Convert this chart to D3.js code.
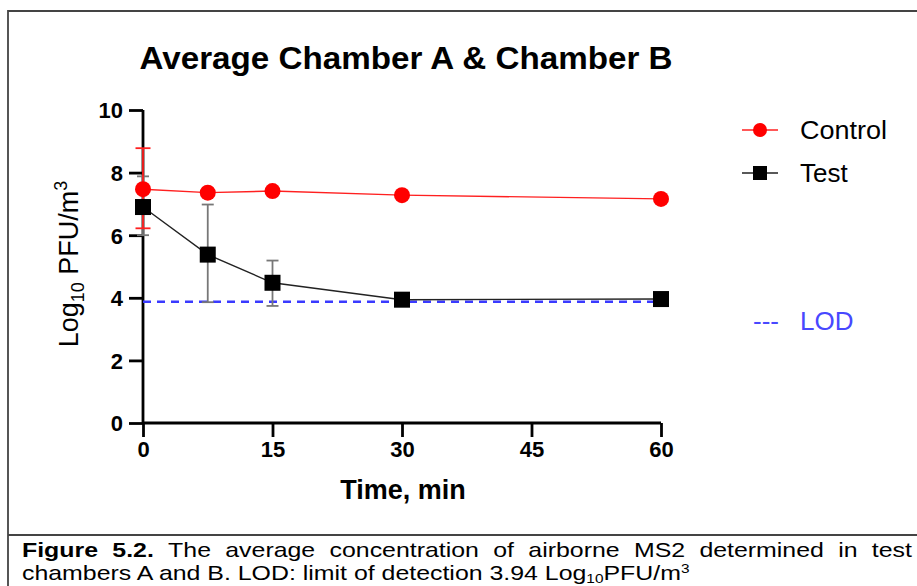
<!DOCTYPE html>
<html><head><meta charset="utf-8">
<script src="https://cdn.jsdelivr.net/npm/d3@7"></script>
<style>body{margin:0;background:#fff}svg{display:block}</style>
</head><body>
<script>
const times = [0, 7.5, 15, 30, 60];
const controlMean = [7.47, 7.36, 7.41, 7.28, 7.16];
const controlErr = [[6.22, 8.78], null, null, null, null];
const testMean = [6.9, 5.38, 4.48, 3.94, 3.96];
const testErr = [[6.0, 7.88], [3.86, 6.98], [3.74, 5.19], null, null];
const lodValue = 3.87;
const xTicks = [0, 15, 30, 45, 60];
const yTicks = [0, 2, 4, 6, 8, 10];
const captionLine1 = ["Figure", "5.2.", "The", "average", "concentration", "of", "airborne", "MS2", "determined", "in", "test"];

const W = 917, H = 586;
const svg = d3.select("body").append("svg").attr("width", W).attr("height", H);
const font = "Liberation Sans, Arial, sans-serif";

// frame
svg.append("path").attr("d", `M8,${H} V11 H${W}`).attr("fill","none").attr("stroke","#444").attr("stroke-width",1.8);
svg.append("line").attr("x1",8).attr("x2",W).attr("y1",535).attr("y2",535).attr("stroke","#444").attr("stroke-width",1.8);

const x = d3.scaleLinear().domain([0, 60]).range([143, 661]);
const y = d3.scaleLinear().domain([0, 10]).range([423, 110]);

// title
svg.append("text").attr("x", 406).attr("y", 69).attr("text-anchor","middle")
  .attr("font-family", font).attr("font-weight","bold").attr("font-size", 31)
  .attr("textLength", 533).attr("lengthAdjust","spacingAndGlyphs")
  .text("Average Chamber A & Chamber B");

// axes
const xAxis = svg.append("g").attr("transform", `translate(0,${y(0)})`)
  .call(d3.axisBottom(x).tickValues(xTicks).tickSize(14).tickPadding(4));
const yAxis = svg.append("g").attr("transform", `translate(${x(0)},0)`)
  .call(d3.axisLeft(y).tickValues(yTicks).tickSize(14).tickPadding(6));
[xAxis, yAxis].forEach(g => {
  g.select(".domain").attr("stroke","#000").attr("stroke-width",2.8);
  g.selectAll(".tick line").attr("stroke","#000").attr("stroke-width",2.8);
  g.selectAll(".tick text").attr("font-family", font).attr("font-weight","bold").attr("font-size",22).attr("fill","#000");
});
xAxis.select(".domain").attr("d", `M${x(0)},0H${x(60)}`);
yAxis.select(".domain").attr("d", `M0,${y(0)}V${y(10)}`);
yAxis.selectAll(".tick text").attr("dy","0.36em");

// axis labels
svg.append("text").attr("x", 403).attr("y", 499).attr("text-anchor","middle")
  .attr("font-family", font).attr("font-weight","bold").attr("font-size",27).text("Time, min");
const yl = svg.append("text").attr("transform", `translate(78,264) rotate(-90)`).attr("text-anchor","middle")
  .attr("font-family", font).attr("font-size",27);
yl.append("tspan").text("Log");
yl.append("tspan").attr("font-size",18).attr("dy",6).text("10");
yl.append("tspan").attr("dy",-6).text(" PFU/m");
yl.append("tspan").attr("font-size",18).attr("dy",-11).text("3");

// LOD
svg.append("line").attr("x1", x(0)).attr("x2", x(60)).attr("y1", y(lodValue)).attr("y2", y(lodValue))
  .attr("stroke","#3a3aff").attr("stroke-width",2.5).attr("stroke-dasharray","8,6");

// error bars
function errBars(errs, color, capW) {
  errs.forEach((e, i) => {
    if (!e) return;
    const cx = x(times[i]);
    const g = svg.append("g").attr("stroke", color).attr("stroke-width",1.8);
    g.append("line").attr("x1",cx).attr("x2",cx).attr("y1",y(e[0])).attr("y2",y(e[1]));
    g.append("line").attr("x1",cx-capW/2).attr("x2",cx+capW/2).attr("y1",y(e[0])).attr("y2",y(e[0]));
    g.append("line").attr("x1",cx-capW/2).attr("x2",cx+capW/2).attr("y1",y(e[1])).attr("y2",y(e[1]));
  });
}
errBars(testErr, "#777", 12);
errBars(controlErr, "#ff2020", 15);

const line = d3.line().x((d,i)=>x(times[i])).y(d=>y(d));
svg.append("path").datum(testMean).attr("d", line).attr("fill","none").attr("stroke","#222").attr("stroke-width",1.4);
svg.append("path").datum(controlMean).attr("d", line).attr("fill","none").attr("stroke","#ff2020").attr("stroke-width",1.4);

svg.selectAll(".sq").data(testMean).enter().append("rect")
  .attr("x",(d,i)=>x(times[i])-8).attr("y",d=>y(d)-8).attr("width",16).attr("height",16).attr("fill","#000");
svg.selectAll(".ci").data(controlMean).enter().append("circle")
  .attr("cx",(d,i)=>x(times[i])).attr("cy",d=>y(d)).attr("r",8).attr("fill","#ff0000");

// legend
const lg = svg.append("g");
lg.append("line").attr("x1",742).attr("x2",778).attr("y1",130).attr("y2",130).attr("stroke","#ff2020").attr("stroke-width",1.6);
lg.append("circle").attr("cx",760).attr("cy",130).attr("r",7).attr("fill","#ff0000");
lg.append("text").attr("x",800).attr("y",139).attr("font-family",font).attr("font-size",26)
  .attr("textLength",87).attr("lengthAdjust","spacingAndGlyphs").text("Control");
lg.append("line").attr("x1",742).attr("x2",778).attr("y1",173).attr("y2",173).attr("stroke","#222").attr("stroke-width",1.6);
lg.append("rect").attr("x",753).attr("y",166).attr("width",14).attr("height",14).attr("fill","#000");
lg.append("text").attr("x",800).attr("y",182).attr("font-family",font).attr("font-size",26).text("Test");
lg.append("text").attr("x",753).attr("y",330).attr("font-family",font).attr("font-size",26).attr("fill","#4848ff").text("---");
lg.append("text").attr("x",800).attr("y",330).attr("font-family",font).attr("font-size",26).attr("fill","#4848ff").text("LOD");

// caption line 2 (measured first to get horizontal scale)
const capSize = 21, capLeft = 22, capRight = 912;
const cap2 = svg.append("text").attr("font-family",font).attr("font-size",capSize);
cap2.append("tspan").text("chambers A and B. LOD: limit of detection 3.94 Log");
cap2.append("tspan").attr("font-size",13).attr("dy",3).text("10");
cap2.append("tspan").attr("dy",-3).text("PFU/m");
cap2.append("tspan").attr("font-size",13).attr("dy",-7).text("3");
const sx = 668 / cap2.node().getComputedTextLength();
cap2.attr("transform", `translate(${capLeft},580) scale(${sx},1)`);

// caption line 1 (justified word by word)
const words = captionLine1.map((w, i) => {
  const t = svg.append("text").attr("font-family", font).attr("font-size", capSize)
    .attr("font-weight", i < 2 ? "bold" : "normal").text(w);
  return {t, w: t.node().getComputedTextLength() * sx};
});
const total = d3.sum(words, d => d.w);
const gap = (capRight - capLeft - total) / (words.length - 1);
let cx = capLeft;
words.forEach(d => { d.t.attr("transform", `translate(${cx},557) scale(${sx},1)`); cx += d.w + gap; });
</script>
</body></html>
